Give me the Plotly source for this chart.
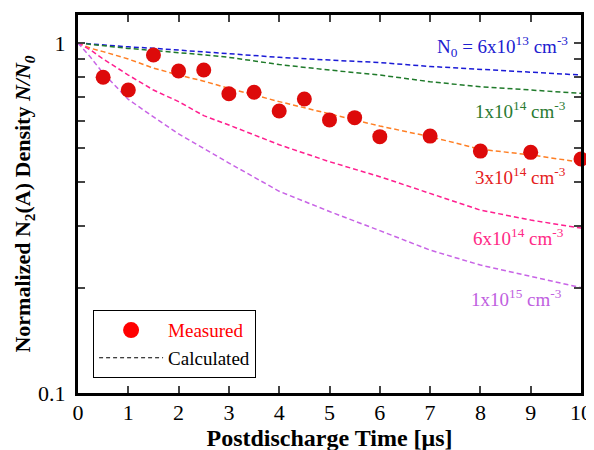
import plotly.graph_objects as go

# ---- data ----
t_calc = [0, 0.25, 0.5, 1, 1.5, 2, 2.5, 3, 4, 5, 6, 7, 8, 9, 10]
calc_6e13 = [1, 0.993, 0.985, 0.975, 0.966, 0.955, 0.944, 0.930, 0.910, 0.894, 0.879, 0.857, 0.841, 0.828, 0.810]
calc_1e14 = [1, 0.990, 0.982, 0.965, 0.952, 0.940, 0.925, 0.910, 0.868, 0.837, 0.810, 0.775, 0.750, 0.734, 0.718]
calc_3e14 = [1, 0.966, 0.945, 0.900, 0.848, 0.810, 0.778, 0.742, 0.680, 0.627, 0.579, 0.540, 0.497, 0.479, 0.456]
calc_6e14 = [1, 0.955, 0.900, 0.810, 0.734, 0.680, 0.620, 0.583, 0.512, 0.458, 0.415, 0.372, 0.333, 0.312, 0.296]
calc_1e15 = [1, 0.910, 0.820, 0.690, 0.615, 0.550, 0.500, 0.454, 0.377, 0.330, 0.291, 0.256, 0.232, 0.215, 0.200]

t_meas = [0.5, 1, 1.5, 2, 2.5, 3, 3.5, 4, 4.5, 5, 5.5, 6, 7, 8, 9, 10]
meas = [0.798, 0.734, 0.924, 0.832, 0.837, 0.716, 0.723, 0.639, 0.692, 0.603, 0.612, 0.540, 0.542, 0.491, 0.487, 0.466]

labels = ["N<sub>0</sub> = 6x10<sup>13</sup> cm<sup>-3</sup>",
          "1x10<sup>14</sup> cm<sup>-3</sup>",
          "3x10<sup>14</sup> cm<sup>-3</sup>",
          "6x10<sup>14</sup> cm<sup>-3</sup>",
          "1x10<sup>15</sup> cm<sup>-3</sup>"]

y_tickvals = [0.1, 0.2, 0.3, 0.4, 0.5, 0.6, 0.7, 0.8, 0.9, 1]
y_ticktext = ["0.1", "", "", "", "", "", "", "", "", "1"]
x_tickvals = [0, 1, 2, 3, 4, 5, 6, 7, 8, 9, 10]

# ---- styles ----
curve_colors = ["#1a1ad6", "#1f7a2a", "#ff7f24", "#ff1f8f", "#c864e6"]
label_colors = ["#2020d0", "#2a7a32", "#e52020", "#ff2a86", "#c060e0"]
label_x = [9.78, 9.74, 9.74, 9.70, 9.66]
label_y = [0.916, 0.748, 0.574, 0.412, 0.251]

FONT = "Liberation Serif, Times New Roman, serif"

fig = go.Figure()
for ys, c in zip([calc_6e13, calc_1e14, calc_3e14, calc_6e14, calc_1e15], curve_colors):
    fig.add_trace(go.Scatter(x=t_calc, y=ys, mode="lines", showlegend=False,
                             line=dict(color=c, width=1.5, dash="5px,3px"), hoverinfo="skip"))

fig.add_trace(go.Scatter(x=t_meas, y=meas, mode="markers", showlegend=False,
                         marker=dict(color="#dd0a0a", size=15), cliponaxis=False))
# legend entries
fig.add_trace(go.Scatter(x=[None], y=[None], mode="markers",
                         name="<span style='color:#ff0000'>Measured</span>",
                         marker=dict(color="#ff0000", size=17)))
fig.add_trace(go.Scatter(x=[None], y=[None], mode="lines", name="Calculated",
                         line=dict(color="black", width=1.2, dash="4px,3px")))

for txt, c, xx, yy in zip(labels, label_colors, label_x, label_y):
    fig.add_annotation(text=txt, x=xx, y=yy, xref="x", yref="paper",
                       xanchor="right", yanchor="middle", showarrow=False,
                       font=dict(family=FONT, size=19, color=c))

fig.update_layout(
    width=594, height=450,
    margin=dict(l=70, r=21, t=7, b=65, autoexpand=False),
    paper_bgcolor="white", plot_bgcolor="white",
    font=dict(family=FONT, size=22, color="black"),
    showlegend=True,
    legend=dict(x=0.03, y=0.219, xanchor="left", yanchor="top",
                bordercolor="black", borderwidth=1, bgcolor="white",
                font=dict(family=FONT, size=19, color="black"),
                itemwidth=64, itemsizing="trace", tracegroupgap=0),
    xaxis=dict(range=[0, 10], tickvals=x_tickvals, ticks="inside", ticklen=7, tickwidth=1.5,
               showline=True, linewidth=3, linecolor="black", mirror="ticks",
               showgrid=False, zeroline=False, tickfont=dict(size=22), automargin=False,
               ticklabelstandoff=-2, ticklabeloverflow="allow",
               title=dict(text="<b>Postdischarge Time [μs]</b>", font=dict(size=24), standoff=4)),
    yaxis=dict(type="log", range=[-1, 0.08], tickvals=y_tickvals, ticktext=y_ticktext,
               ticks="inside", ticklen=7, tickwidth=1.5,
               showline=True, linewidth=3, linecolor="black", mirror="ticks",
               showgrid=False, zeroline=False, tickfont=dict(size=22), ticklabelstandoff=5,
               automargin=False,
               title=dict(text="<b>Normalized N<sub>2</sub>(A) Density </b><b><i>N/N<sub>0</sub></i></b>",
                          font=dict(size=22), standoff=2)),
)

fig.write_html("out.html")
